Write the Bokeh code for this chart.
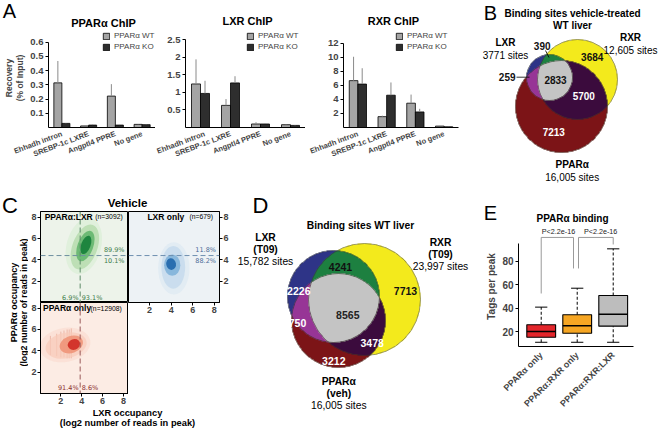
import numpy as np
from math import pi
from bokeh.plotting import figure
from bokeh.models import Range1d, FactorRange, FixedTicker, ColumnDataSource, Span
from bokeh.layouts import row, column
from bokeh.transform import dodge
from bokeh.core.properties import value
from bokeh.embed import file_html
from bokeh.resources import INLINE

# ======================= DATA =======================
# Panel A : ChIP-qPCR
chip_sites = ["Ehhadh intron", "SREBP-1c LXRE", "Angptl4 PPRE", "No gene"]
genotype_labels = ["PPARα WT", "PPARα KO"]
chip_titles = ["PPARα ChIP", "LXR ChIP", "RXR ChIP"]

ppar_wt = [0.314, 0.011, 0.221, 0.022]
ppar_wt_err = [0.154, 0.003, 0.084, 0.002]
ppar_ko = [0.029, 0.017, 0.017, 0.020]
ppar_ko_err = [0.002, 0.004, 0.002, 0.002]

lxr_wt = [1.24, 0.63, 0.10, 0.08]
lxr_wt_err = [0.70, 0.18, 0.05, 0.01]
lxr_ko = [0.97, 1.27, 0.10, 0.06]
lxr_ko_err = [0.36, 0.19, 0.02, 0.01]

rxr_wt = [6.69, 1.55, 3.47, 0.20]
rxr_wt_err = [3.41, 0.14, 1.23, 0.02]
rxr_ko = [6.20, 4.61, 2.22, 0.10]
rxr_ko_err = [2.26, 1.82, 0.45, 0.02]

# Panel B : Venn vehicle-treated WT liver
venn_b_title = ["Binding sites vehicle-treated", "WT liver"]
venn_b_sets = ["LXR", "RXR", "PPARα"]
venn_b_totals = [3771, 12605, 16005]
venn_b_regions = ["LR", "R", "LP", "LRP", "RP", "P"]
venn_b_counts = [390, 3684, 259, 2833, 5700, 7213]

# Panel C : occupancy scatter (density summarised as nested ellipses)
c_title = "Vehicle"
c_groups = ["PPARα:LXR", "LXR only", "PPARα only"]
c_counts = [3092, 679, 12908]
c_thr_lxr = 3.85
c_thr_ppar = 4.4
tl_ppar_split = [89.9, 10.1]
tl_lxr_split = [6.9, 93.1]
tr_ppar_split = [11.8, 88.2]
bl_lxr_split = [91.4, 8.6]

green_x = [4.20, 4.30, 4.35, 4.40]
green_y = [5.30, 5.20, 5.30, 5.40]
green_w = [3.3, 2.4, 1.5, 0.9]
green_h = [5.4, 4.4, 3.0, 1.8]
green_ang = [-15, -20, -20, -20]

blue_x = [4.25, 4.20, 4.10, 4.00]
blue_y = [3.20, 3.30, 3.50, 3.60]
blue_w = [2.9, 2.2, 1.5, 0.9]
blue_h = [4.9, 4.0, 2.0, 1.1]
blue_ang = [0, 0, 0, 10]

red_x = [2.40, 2.50, 3.00, 3.25]
red_y = [4.55, 4.50, 4.60, 4.60]
red_w = [4.9, 4.0, 2.3, 1.2]
red_h = [3.2, 2.4, 1.6, 1.0]
red_ang = [10, 12, 20, 20]

red_stripe_x = [1.0, 1.6, 2.0, 2.3, 2.6, 2.8, 3.0]
red_stripe_lo = [3.6, 3.5, 3.4, 3.4, 3.3, 3.3, 3.3]
red_stripe_hi = [5.4, 5.6, 5.8, 5.9, 6.0, 6.0, 6.1]

# Panel D : Venn WT liver
venn_d_title = "Binding sites WT liver"
venn_d_sets = ["LXR", "RXR", "PPARα"]
venn_d_subs = ["(T09)", "(T09)", "(veh)"]
venn_d_totals = [15782, 23997, 16005]
venn_d_regions = ["LR", "L", "R", "LRP", "LP", "RP", "P"]
venn_d_counts = [4241, 2226, 7713, 8565, 750, 3478, 3212]

# Panel E : boxplots
e_title = "PPARα binding"
box_groups = ["PPARα only", "PPARα:RXR only", "PPARα:RXR:LXR"]
box_lo = [11.0, 11.0, 11.0]
box_q1 = [15.3, 18.7, 24.7]
box_med = [20.2, 25.0, 34.9]
box_q3 = [25.9, 34.4, 50.8]
box_hi = [40.9, 57.0, 90.5]
e_pvalues = ["P<2.2e-16", "P<2.2e-16"]

# ======================= STYLE / LAYOUT =======================
FONT = "Liberation Sans"
FV = value(FONT)


def canvas(px, py, w, h):
    p = figure(width=w, height=h, x_range=Range1d(px, px + w),
               y_range=Range1d(-(py + h), -py),
               output_backend="svg", toolbar_location=None,
               x_axis_type=None, y_axis_type=None, min_border=0,
               outline_line_color=None)
    return p


def txt(p, x, y, s, size, bold=False, color="black", align="center",
        baseline="middle", angle=0.0, font=FV):
    p.text(x=[x], y=[-y], text=[s], text_font=font, text_font_size=f"{size}px",
           text_font_style="bold" if bold else "normal", text_color=color,
           text_align=align, text_baseline=baseline, angle=angle)


def style_axis(ax, size="9px"):
    ax.axis_line_color = "black"
    ax.axis_line_width = 1
    ax.major_tick_line_color = "black"
    ax.major_tick_out = 3
    ax.major_tick_in = 0
    ax.minor_tick_line_color = None
    ax.major_label_text_font = FONT
    ax.major_label_text_font_style = "bold"
    ax.major_label_text_font_size = size
    ax.major_label_standoff = 2


# ---------------- Panel A ----------------
STRIP_H = 28          # header strip holding the panel letter and titles
AXIS_PAGE = 134       # page y of the bar charts' x-axis
BAR_BOTTOM = 31
BAR_H = 165 - STRIP_H
FRAME_H = AXIS_PAGE - STRIP_H

pAt = canvas(0, 0, 478, STRIP_H)
txt(pAt, 9, 10, "A", 20)
for tx, ty, t in zip([103, 247, 393], [22, 20.5, 20.5], chip_titles):
    txt(pAt, tx, ty, t, 11, bold=True)


def bar_panel(wt, wt_err, ko, ko_err, width, left, right, ticks,
              top_tick_page, legend_x, ylabel=None):
    top_tick = ticks[-1]
    y_end = top_tick * FRAME_H / (AXIS_PAGE - top_tick_page)
    p = figure(width=width, height=BAR_H, x_range=FactorRange(*chip_sites),
               y_range=Range1d(0, y_end), output_backend="svg",
               toolbar_location=None, min_border_left=left,
               min_border_right=right, min_border_top=0,
               min_border_bottom=BAR_BOTTOM, outline_line_color=None)
    p.xgrid.visible = False
    p.ygrid.visible = False
    src = ColumnDataSource(dict(
        site=chip_sites, wt=wt, ko=ko,
        wt_top=[a + b for a, b in zip(wt, wt_err)],
        ko_top=[a + b for a, b in zip(ko, ko_err)]))
    xw = dodge("site", -0.15, range=p.x_range)
    xk = dodge("site", 0.15, range=p.x_range)
    p.vbar(x=xw, top="wt", width=0.3, source=src, fill_color="#a4a4a4",
           line_color="black", line_width=0.8, legend_label=genotype_labels[0])
    p.vbar(x=xk, top="ko", width=0.3, source=src, fill_color="#2e2e2e",
           line_color="black", line_width=0.8, legend_label=genotype_labels[1])
    p.segment(x0=xw, y0="wt", x1=xw, y1="wt_top", source=src,
              line_color="#8a8a8a", line_width=1)
    p.segment(x0=xk, y0="ko", x1=xk, y1="ko_top", source=src,
              line_color="#8a8a8a", line_width=1)
    style_axis(p.yaxis[0], "9.5px")
    p.yaxis.ticker = FixedTicker(ticks=ticks)
    p.yaxis.bounds = (0, top_tick)
    style_axis(p.xaxis[0], "7.5px")
    p.xaxis.major_tick_line_color = None
    p.xaxis.major_label_orientation = 0.36
    p.xaxis.major_label_standoff = 3
    if ylabel:
        p.yaxis.axis_label = ylabel
        p.yaxis.axis_label_text_font = FONT
        p.yaxis.axis_label_text_font_style = "bold"
        p.yaxis.axis_label_text_font_size = "8.5px"
        p.yaxis.axis_label_text_line_height = 1.15
        p.yaxis.axis_label_standoff = 2
    lg = p.legend[0]
    lg.location = (legend_x, 76)
    lg.background_fill_alpha = 0
    lg.border_line_alpha = 0
    lg.padding = 0
    lg.margin = 0
    lg.spacing = 2
    lg.glyph_width = 8
    lg.glyph_height = 8
    lg.label_height = 8
    lg.label_standoff = 4
    lg.label_text_font = FONT
    lg.label_text_font_size = "8px"
    return p


pA1 = bar_panel(ppar_wt, ppar_wt_err, ppar_ko, ppar_ko_err,
                155, 41, 0, [0.1, 0.2, 0.3, 0.4, 0.5, 0.6], 42.7, 54,
                ylabel="Recovery\n(% of Input)")
pA2 = bar_panel(lxr_wt, lxr_wt_err, lxr_ko, lxr_ko_err,
                150, 30, 0, [0.5, 1.0, 1.5, 2.0, 2.5], 40, 61)
pA3 = bar_panel(rxr_wt, rxr_wt_err, rxr_ko, rxr_ko_err,
                173, 38, 20, [2, 4, 6, 8, 10, 12], 44, 52)

# ---------------- Venn helper ----------------
VENN_COLORS = {1: "#2e3487", 2: "#f3ea1c", 4: "#7c1417", 3: "#1d8040",
               5: "#973596", 6: "#3b0b3d", 7: "#c4c4c4"}


def venn_image(p, circles, res=3):
    x0 = min(c[0] - c[2] for c in circles) - 1
    x1 = max(c[0] + c[2] for c in circles) + 1
    y0 = min(c[1] - c[2] for c in circles) - 1
    y1 = max(c[1] + c[2] for c in circles) + 1
    nx = int(np.ceil((x1 - x0) * res))
    ny = int(np.ceil((y1 - y0) * res))
    gx = x0 + (np.arange(nx) + 0.5) / res
    gy = y1 - (np.arange(ny) + 0.5) / res
    X, Y = np.meshgrid(gx, gy)
    code = np.zeros(X.shape, dtype=np.int32)
    for bit, (cx, cy, r) in enumerate(circles):
        code |= (((X - cx) ** 2 + (Y - cy) ** 2) <= r * r).astype(np.int32) << bit
    img = np.zeros(X.shape, dtype=np.uint32)
    v = img.view(dtype=np.uint8).reshape(ny, nx, 4)
    for c, hx in VENN_COLORS.items():
        m = code == c
        v[m, 0] = int(hx[1:3], 16)
        v[m, 1] = int(hx[3:5], 16)
        v[m, 2] = int(hx[5:7], 16)
        v[m, 3] = 255
    p.image_rgba(image=[img], x=x0, y=-y1, dw=nx / res, dh=ny / res)
    p.ellipse(x=[c[0] for c in circles], y=[-c[1] for c in circles],
              width=[2 * c[2] for c in circles], height=[2 * c[2] for c in circles],
              fill_color=None, line_color="#3a3a2a", line_width=0.7, line_alpha=0.7)


def sites(n):
    return (f"{n:,}" if n >= 10000 else str(n)) + " sites"


# ---------------- Panel B ----------------
pB = canvas(478, 0, 186, 190)
b_circles = [(549, 77, 23), (577, 79, 40), (561, 106, 46)]  # LXR, RXR, PPARa
venn_image(pB, b_circles)
txt(pB, 490, 12, "B", 20)
txt(pB, 572, 12.7, venn_b_title[0], 10, bold=True)
txt(pB, 572, 24.7, venn_b_title[1], 10, bold=True)
b_set_pos = [(505, 42.3), (630, 36.7), (571.7, 163.5)]
for (sx, sy), name, tot in zip(b_set_pos, venn_b_sets, venn_b_totals):
    txt(pB, sx, sy, name, 10, bold=True)
    txt(pB, sx, sy + 13, sites(tot), 10)
b_num_pos = {"LR": (541.7, 45), "R": (591.7, 56), "LP": (506.7, 76.7),
             "LRP": (555, 79), "RP": (583.3, 95), "P": (553.3, 131)}
b_num_col = {"LR": "#111111", "R": "#111111", "LP": "#111111",
             "LRP": "#111111", "RP": "white", "P": "white"}
for reg, cnt in zip(venn_b_regions, venn_b_counts):
    x, y = b_num_pos[reg]
    txt(pB, x, y, str(cnt), 10, bold=True, color=b_num_col[reg])
pB.line(x=[545, 548.5], y=[-50, -57], line_color="black", line_width=0.8)
pB.line(x=[516, 529], y=[-76.7, -76.7], line_color="black", line_width=0.8)

# ---------------- Panel C ----------------
CX = (0.05, 8.48)
CY = (0.0, 8.53)


def occ_panel(w, h, bl, br, bt, bb, bg, yloc="left", show_x=True):
    p = figure(width=w, height=h, x_range=Range1d(*CX), y_range=Range1d(*CY),
               output_backend="svg", toolbar_location=None,
               min_border_left=bl, min_border_right=br, min_border_top=bt,
               min_border_bottom=bb, background_fill_color=bg,
               outline_line_color="black", outline_line_width=1,
               y_axis_location=yloc)
    p.xgrid.visible = False
    p.ygrid.visible = False
    for ax in list(p.yaxis) + list(p.xaxis):
        style_axis(ax, "9px")
        ax.major_label_standoff = 1
        ax.ticker = FixedTicker(ticks=[2, 4, 6, 8])
    if not show_x:
        p.xaxis.visible = False
    return p


def cloud(p, xs, ys, ws, hs, angs, colors, alphas):
    p.ellipse(x=xs, y=ys, width=ws, height=hs, angle=angs, angle_units="deg",
              fill_color=colors, fill_alpha=alphas, line_color=None)


def ptxt(p, x, y, s, size, bold=False, color="black", align="left", font=FV):
    p.text(x=[x], y=[y], text=[s], text_font=font, text_font_size=f"{size}px",
           text_font_style="bold" if bold else "normal", text_color=color,
           text_align=align, text_baseline="middle")


PCT = value("DejaVu Sans")

pTL = occ_panel(100, 92, 9, 0, 1, 0, "#edf3ea", show_x=False)
cloud(pTL, green_x, green_y, green_w, green_h, green_ang,
      ["#dcefd8", "#b6dcae", "#5fb46a", "#15803a"], [0.8, 0.85, 0.85, 0.9])
pTL.add_layout(Span(location=c_thr_lxr, dimension="height", line_dash="5 3",
                    line_color="#5d8a68", line_width=1))
pTL.add_layout(Span(location=c_thr_ppar, dimension="width", line_dash="5 3",
                    line_color="#6f8fa0", line_width=1))
ptxt(pTL, 0.45, 8.05, c_groups[0], 8.5, bold=True)
ptxt(pTL, 5.3, 8.05, f"(n={c_counts[0]})", 6.8)
ptxt(pTL, 8.1, 4.95, f"{tl_ppar_split[0]}%", 6.5, color="#3d7d4a", align="right", font=PCT)
ptxt(pTL, 8.1, 3.9, f"{tl_ppar_split[1]}%", 6.5, color="#3d7d4a", align="right", font=PCT)
ptxt(pTL, 3.7, 0.45, f"{tl_lxr_split[0]}%", 6.5, color="#3d7d4a", align="right", font=PCT)
ptxt(pTL, 4.0, 0.45, f"{tl_lxr_split[1]}%", 6.5, color="#3d7d4a", align="left", font=PCT)

pTR = occ_panel(107, 106, 0, 16, 1, 14, "#edf2f5", yloc="right")
cloud(pTR, blue_x, blue_y, blue_w, blue_h, blue_ang,
      ["#dfeaf3", "#c6dbec", "#7db0d8", "#1f66ab"], [0.8, 0.85, 0.85, 0.9])
pTR.add_layout(Span(location=c_thr_ppar, dimension="width", line_dash="5 3",
                    line_color="#6f8fb0", line_width=1))
ptxt(pTR, 1.8, 8.05, c_groups[1], 8.5, bold=True)
ptxt(pTR, 5.7, 8.05, f"(n={c_counts[1]})", 6.8)
ptxt(pTR, 8.15, 4.95, f"{tr_ppar_split[0]}%", 6.5, color="#4a6a96", align="right", font=PCT)
ptxt(pTR, 8.15, 3.9, f"{tr_ppar_split[1]}%", 6.5, color="#4a6a96", align="right", font=PCT)

pBL = occ_panel(100, 104, 9, 0, 0, 13, "#fcece4")
cloud(pBL, red_x[:1], red_y[:1], red_w[:1], red_h[:1], red_ang[:1],
      ["#fadfd3"], [0.8])
pBL.segment(x0=red_stripe_x, y0=red_stripe_lo, x1=red_stripe_x, y1=red_stripe_hi,
            line_color="#e39a86", line_width=0.8, line_alpha=0.7)
cloud(pBL, red_x[1:], red_y[1:], red_w[1:], red_h[1:], red_ang[1:],
      ["#f8cbb9", "#ef9174", "#cf2a22"], [0.7, 0.85, 0.9])
pBL.add_layout(Span(location=c_thr_lxr, dimension="height", line_dash="5 3",
                    line_color="#9a5a5a", line_width=1))
ptxt(pBL, 0.3, 8.0, c_groups[2], 8.5, bold=True)
ptxt(pBL, 4.85, 8.0, f"(n={c_counts[2]})", 6.8)
ptxt(pBL, 3.7, 0.5, f"{bl_lxr_split[0]}%", 6.5, color="#8a3030", align="right", font=PCT)
ptxt(pBL, 4.0, 0.5, f"{bl_lxr_split[1]}%", 6.5, color="#8a3030", align="left", font=PCT)

pCy = canvas(0, 165, 28, 263)
txt(pCy, 9.5, 205, "C", 22)
txt(pCy, 13, 302, "PPARα occupancy", 9, bold=True, angle=pi / 2)
txt(pCy, 23, 302, "(log2 number of reads in peak)", 8.8, bold=True, angle=pi / 2)

pCh = canvas(28, 165, 207, 45)
txt(pCh, 127, 202, c_title, 11.5, bold=True)

pCf = canvas(28, 406, 207, 22)
txt(pCf, 127, 412, "LXR occupancy", 9.3, bold=True)
txt(pCf, 127, 422.5, "(log2 number of reads in peak)", 9.3, bold=True)

blockC = row(pCy, column(row(pCh), row(column(pTL, pBL), pTR), row(pCf)))

# ---------------- Panel D ----------------
pD = canvas(235, 165, 243, 263)
d_circles = [(333, 296, 46), (364, 299, 56), (338, 320, 47)]  # LXR, RXR, PPARa
venn_image(pD, d_circles)
txt(pD, 260, 205, "D", 22)
txt(pD, 360, 225, venn_d_title, 10.3, bold=True)
d_set_pos = [(265, 236.7), (440, 241.7), (338.3, 380.7)]
for (sx, sy), name, sub, tot in zip(d_set_pos, venn_d_sets, venn_d_subs, venn_d_totals):
    txt(pD, sx, sy, name, 10.3, bold=True)
    txt(pD, sx, sy + 12, sub, 10.3, bold=True)
    txt(pD, sx, sy + 24.5, sites(tot), 10.3)
d_num_pos = {"LR": (340, 266.7), "L": (298.3, 290), "R": (405, 290),
             "LRP": (347.3, 314), "LP": (297, 322), "RP": (371.7, 342.7),
             "P": (333.3, 360)}
d_num_col = {"LR": "#111111", "L": "white", "R": "#111111", "LRP": "#222222",
             "LP": "white", "RP": "white", "P": "white"}
for reg, cnt in zip(venn_d_regions, venn_d_counts):
    x, y = d_num_pos[reg]
    txt(pD, x, y, str(cnt), 10.5, bold=True, color=d_num_col[reg])

# ---------------- Panel E ----------------
pEh = canvas(478, 190, 186, 36)
txt(pEh, 490, 212, "E", 20)
txt(pEh, 572, 218, e_title, 10, bold=True)

pE = figure(width=186, height=202, x_range=Range1d(0.369, 4.425),
            y_range=Range1d(7.4, 109.5), output_backend="svg",
            toolbar_location=None, min_border_left=40, min_border_right=0,
            min_border_top=0, min_border_bottom=82, outline_line_color=None)
pE.xgrid.visible = False
pE.ygrid.visible = False
box_x = list(range(1, len(box_groups) + 1))
box_colors = ["#e3262b", "#f6a623", "#bdbdbd"]
half = 0.40
cap = 0.17
pE.segment(x0=box_x, y0=box_q3, x1=box_x, y1=box_hi, line_color="black",
           line_width=1, line_dash="3 2")
pE.segment(x0=box_x, y0=box_lo, x1=box_x, y1=box_q1, line_color="black",
           line_width=1, line_dash="3 2")
pE.segment(x0=[x - cap for x in box_x], y0=box_hi, x1=[x + cap for x in box_x],
           y1=box_hi, line_color="black", line_width=1)
pE.segment(x0=[x - cap for x in box_x], y0=box_lo, x1=[x + cap for x in box_x],
           y1=box_lo, line_color="black", line_width=1)
pE.vbar(x=box_x, bottom=box_q1, top=box_q3, width=2 * half, fill_color=box_colors,
        line_color="black", line_width=1.1)
pE.segment(x0=[x - half for x in box_x], y0=box_med, x1=[x + half for x in box_x],
           y1=box_med, line_color="black", line_width=1.6)
# significance brackets
br_top = 100.2
pE.multi_line(xs=[[1, 1, 1.897, 1.897], [2.036, 2.036, 3.0, 3.0]],
              ys=[[box_hi[0] + 11.6, br_top, br_top, box_hi[1] + 16.8],
                  [box_hi[1] + 16.8, br_top, br_top, box_hi[2] + 3.7]],
              line_color="#9a9a9a", line_width=1)
pE.text(x=[1.48, 2.65], y=[br_top + 1.0, br_top + 1.0], text=e_pvalues,
        text_font=FV, text_font_size="7.2px", text_align="center",
        text_baseline="bottom", text_color="#222222")
style_axis(pE.yaxis[0], "10px")
pE.yaxis.ticker = FixedTicker(ticks=[20, 40, 60, 80])
pE.yaxis.bounds = (7.4, 95)
pE.yaxis.axis_label = "Tags per peak"
pE.yaxis.axis_label_text_font = FONT
pE.yaxis.axis_label_text_font_style = "bold"
pE.yaxis.axis_label_text_font_size = "10px"
pE.yaxis.axis_label_standoff = 2
style_axis(pE.xaxis[0], "9px")
pE.xaxis.ticker = FixedTicker(ticks=box_x)
pE.xaxis.major_label_overrides = {x: g for x, g in zip(box_x, box_groups)}
pE.xaxis.major_label_orientation = pi / 4
pE.xaxis.major_tick_line_color = None
pE.xaxis.bounds = (0.369, 3.56)
pE.xaxis.major_label_standoff = 4

# ---------------- layout ----------------
# every figure is wrapped in its own row so that sibling plots are not
# frame-aligned to one another (which would squeeze the canvas panels)
left = column(row(pAt), row(pA1, pA2, pA3), row(blockC, pD))
right = column(row(pB), row(pEh), row(pE))
layout = row(left, right)

open("out.html", "w").write(file_html(layout, INLINE))
